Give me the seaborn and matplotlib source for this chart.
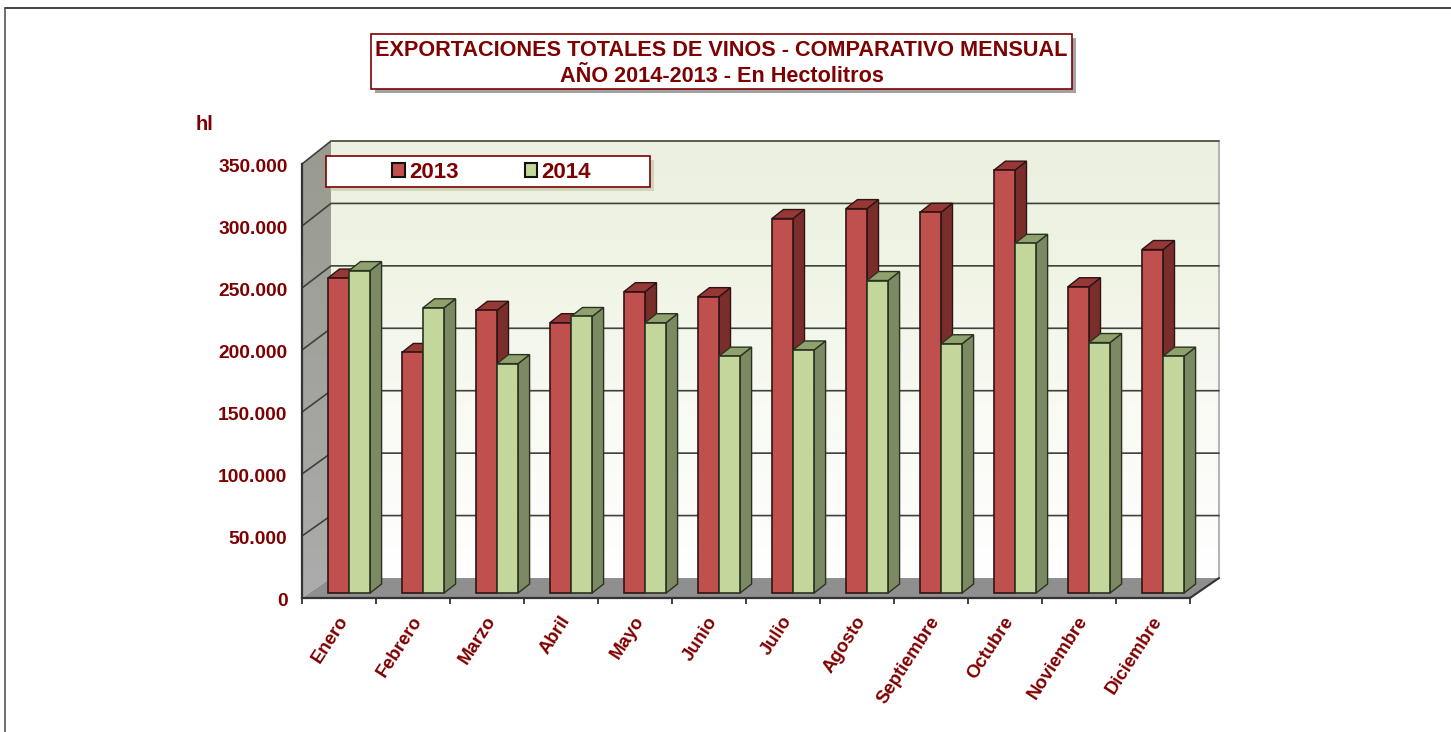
import numpy as np
import pandas as pd
import seaborn as sns
import matplotlib
matplotlib.use('Agg')
import matplotlib.pyplot as plt
import matplotlib.patheffects as pe
from matplotlib.colors import LinearSegmentedColormap
from matplotlib.patches import Polygon, Rectangle
from matplotlib.ticker import FuncFormatter
from matplotlib.transforms import Affine2D, IdentityTransform

# Data (hectolitres)
meses = ['Enero', 'Febrero', 'Marzo', 'Abril', 'Mayo', 'Junio', 'Julio', 'Agosto',
         'Septiembre', 'Octubre', 'Noviembre', 'Diciembre']
valores_2013 = [254000, 194000, 228000, 218000, 243000, 239000, 302000, 310000, 307000, 341000, 247000, 277000]
valores_2014 = [260000, 230000, 185000, 223000, 218000, 191000, 196000, 252000, 201000, 282000, 202000, 191000]
anios = ['2013', '2014']
titulo = 'EXPORTACIONES TOTALES DE VINOS - COMPARATIVO MENSUAL\nAÑO 2014-2013 - En Hectolitros'
y_ticks = [0, 50000, 100000, 150000, 200000, 250000, 300000, 350000]

W, H = 1451, 732
ROJO = '#7f0000'
caras = {'2013': '#c0504d', '2014': '#c3d69b'}
tapas = {'2013': '#963836', '2014': '#8fa16c'}
lados = {'2013': '#7a2e2c', '2014': '#7b8a63'}
bordes = {'2013': '#2e1414', '2014': '#2b3320'}

df = pd.DataFrame({
    'mes': meses * 2,
    'hl': valores_2013 + valores_2014,
    'anio': [anios[0]] * 12 + [anios[1]] * 12,
})

sns.set_theme(style='white')
plt.rcParams['font.family'] = ['Liberation Sans', 'DejaVu Sans']
plt.rcParams['font.weight'] = 'bold'

fig = plt.figure(figsize=(W / 100, H / 100), dpi=100, facecolor='white')

# Background layer in pixel coordinates: walls and floor
bg = fig.add_axes([0, 0, 1, 1], zorder=0)
bg.axis('off')

x0, x1, y0, y1 = 302, 1190, 598, 164  # front plane of the chart
dx_fondo = 29
top_fondo, bot_fondo = 141, 578  # back plane of the chart


def degradado(colores, extent, clip=None):
    cmap = LinearSegmentedColormap.from_list('g', colores)
    im = bg.imshow(np.linspace(0, 1, 256).reshape(-1, 1), cmap=cmap, aspect='auto', extent=extent, zorder=1)
    if clip is not None:
        clip.set_transform(bg.transData)
        im.set_clip_path(clip)


degradado([(0, '#ecf0e0'), (0.3, '#f0f4e5'), (0.6, '#f8faf3'), (1, '#ffffff')],
          (x0 + dx_fondo, x1 + dx_fondo, bot_fondo, top_fondo))
degradado(['#999b90', '#acacac'], (x0, x0 + dx_fondo, y0, top_fondo),
          Polygon([(x0, y0), (x0 + dx_fondo, bot_fondo), (x0 + dx_fondo, top_fondo), (x0, y1)]))
bg.add_patch(Polygon([(x0, y0), (x1, y0), (x1 + dx_fondo, bot_fondo), (x0 + dx_fondo, bot_fondo)],
                     fc='#8f8f8f', ec='none', zorder=2))
bg.plot([x1 + dx_fondo] * 2, [top_fondo, bot_fondo], color='#b5b5b5', lw=1.5, zorder=3)
bg.plot([x1, x1 + dx_fondo], [y0, bot_fondo], color='#333333', lw=1.5, zorder=3)

# Main axes sit exactly on the front plane
ax = fig.add_axes([x0 / W, 1 - y0 / H, (x1 - x0) / W, (y0 - y1) / H], zorder=1)
ax.patch.set_visible(False)

sns.barplot(data=df, x='mes', y='hl', hue='anio', order=meses, hue_order=anios, palette=caras,
            width=0.57, gap=0, saturation=1, ax=ax)
ax.set_xlim(-0.5, 11.5)
ax.set_ylim(0, 350000)
ax.set_xlabel('')
ax.set_ylabel('')
sns.despine(ax=ax, top=True, right=True)
for s in ['left', 'bottom']:
    ax.spines[s].set_color('#333333')
    ax.spines[s].set_linewidth(1.6)

ax.set_yticks(y_ticks)
ax.yaxis.set_major_formatter(FuncFormatter(lambda v, _: f'{v:,.0f}'.replace(',', '.')))
ax.set_xticks(range(12))
ax.set_xticks(np.arange(-0.5, 12, 1), minor=True)
ax.tick_params(axis='y', length=4.5, width=1.2, color='#222222', pad=6, labelsize=13.9, labelcolor=ROJO)
ax.tick_params(axis='x', which='major', length=0, pad=11, labelsize=13.3, labelcolor=ROJO)
ax.tick_params(axis='x', which='minor', length=4.5, width=1.2, color='#222222', bottom=True)
plt.setp(ax.get_xticklabels(), rotation=57, ha='right', va='top', rotation_mode='anchor', weight='bold')
plt.setp(ax.get_yticklabels(), weight='bold')
for lab in ax.get_xticklabels():
    lab.set_transform(lab.get_transform() + Affine2D().translate(-2, 0))
for lab in ax.get_yticklabels():
    lab.set_transform(lab.get_transform() + Affine2D().translate(0, -1))

# Grid lines run over the left wall and along the back wall
for v in y_ticks[1:]:
    yp = H - ax.transData.transform((0, v))[1]
    yb = bot_fondo - (bot_fondo - top_fondo) * v / y_ticks[-1]
    bg.plot([x0, x0 + dx_fondo, x1 + dx_fondo], [yp, yb, yb], color='#3f4238', lw=1.2, zorder=3,
            solid_joinstyle='miter')
bg.set_xlim(0, W)
bg.set_ylim(H, 0)

# Give every bar its depth: shift onto the floor and add the top and right faces
ident = IdentityTransform()
dx_bar, dy_bar = 10, 5
prof_x, prof_y = 11.5, 9
bars = sorted(ax.patches, key=lambda b: b.get_x())
for i, b in enumerate(bars):
    anio = anios[i % 2]
    z = 5 + i
    (xa, ya), (xb, yb) = ax.transData.transform([(b.get_x(), 0), (b.get_x() + b.get_width(), b.get_height())])
    xa, xb, ya, yb = xa + dx_bar, xb + dx_bar, ya + dy_bar, yb + dy_bar
    b.set_transform(ax.transData + Affine2D().translate(dx_bar, dy_bar))
    b.set(edgecolor=bordes[anio], linewidth=1.2, zorder=z + 0.5, clip_on=False)
    lado = [(xb, ya), (xb + prof_x, ya + prof_y), (xb + prof_x, yb + prof_y), (xb, yb)]
    tapa = [(xa, yb), (xa + prof_x, yb + prof_y), (xb + prof_x, yb + prof_y), (xb, yb)]
    for pts, col in ((lado, lados[anio]), (tapa, tapas[anio])):
        ax.add_patch(Polygon(pts, closed=True, transform=ident, fc=col, ec=bordes[anio], lw=1.0,
                             zorder=z, clip_on=False))


def caja(x, y, w, h, sombra):
    r = Rectangle((x, H - y - h), w, h, transform=ident, fc='white', ec=ROJO, lw=1.2, zorder=40, clip_on=False)
    r.set_path_effects([pe.SimplePatchShadow(offset=(3, -3), shadow_rgbFace=sombra, alpha=0.6), pe.Normal()])
    return ax.add_patch(r)


# Legend box
caja(326, 156, 324, 31, '#b9c4a0')
handles, labels = ax.get_legend_handles_labels()
leg = ax.legend(handles, labels, frameon=False, ncol=2, loc='center',
                bbox_to_anchor=((491.5 - x0) / (x1 - x0), (y0 - 172) / (y0 - y1)),
                handlelength=0.58, handleheight=0.58, handletextpad=0.18, columnspacing=2.97,
                labelcolor=ROJO, prop={'weight': 'bold', 'size': 16})
leg.set_zorder(50)
for h in leg.legend_handles:
    h.set(edgecolor='#111111', linewidth=1.5)

# Title box
caja(371, 34, 701, 55, '#666666')
fig.text(721.5 / W, 1 - 63.5 / H, titulo, ha='center', va='center', color=ROJO, fontsize=15.6,
         fontweight='bold', linespacing=1.3, zorder=60)

fig.text(196 / W, 1 - 124.5 / H, 'hl', ha='left', va='center', color=ROJO, fontsize=14.5, fontweight='bold')

# Slide border
fig.add_artist(plt.Line2D([5 / W, 1], [1 - 7.5 / H, 1 - 7.5 / H], color='#222222', lw=1.2))
fig.add_artist(plt.Line2D([4.5 / W, 4.5 / W], [0, 1 - 7.5 / H], color='#555555', lw=1.2))

fig.savefig('out.png', dpi=100)
